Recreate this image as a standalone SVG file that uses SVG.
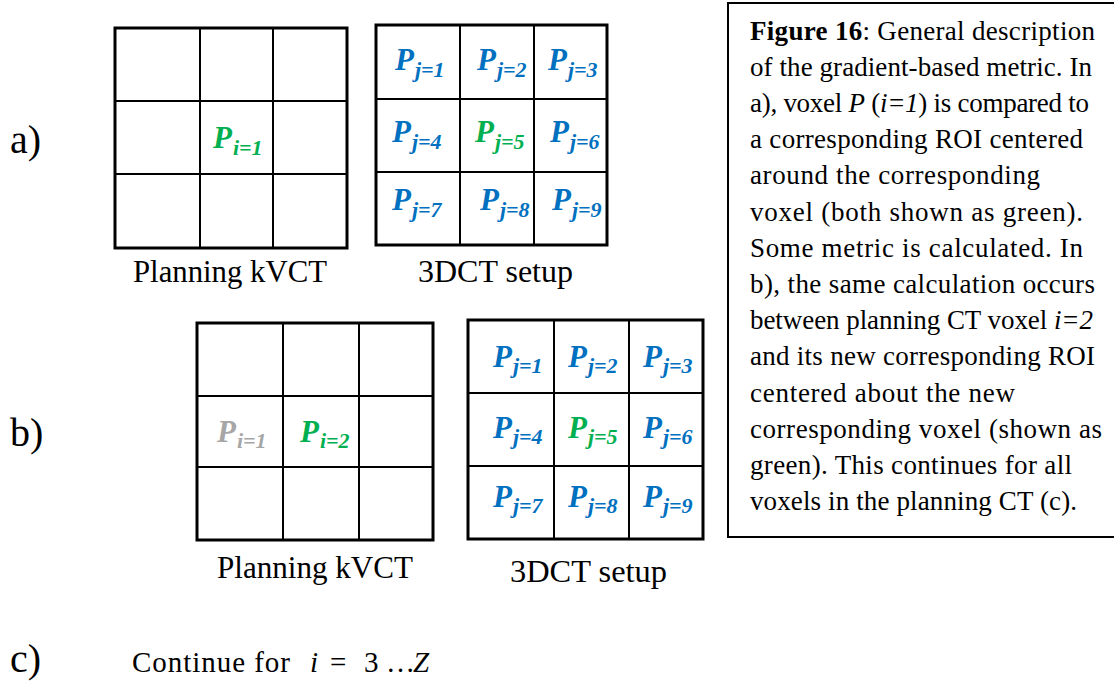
<svg xmlns="http://www.w3.org/2000/svg" width="1114" height="687" viewBox="0 0 1114 687">
<style>
  .outer { fill: #ffffff; stroke: #000000; stroke-width: 3; }
  .inner { stroke: #000000; stroke-width: 2; fill: none; }
  .p { font-family: "Liberation Serif", "Times New Roman", serif; font-weight: bold; font-style: italic; font-size: 31px; }
  .sub { font-size: 22px; }
  .blue { fill: #0070C0; }
  .green { fill: #00B050; }
  .grey { fill: #A6A6A6; }
  .lbl { font-family: "Liberation Serif", "Times New Roman", serif; font-size: 31px; fill: #000000; }
  .row { font-family: "Liberation Serif", "Times New Roman", serif; font-size: 40px; fill: #000000; }
  .cap { font-family: "Liberation Serif", "Times New Roman", serif; font-size: 27px; fill: #000000; }
  .capbox { fill: #ffffff; stroke: #000000; stroke-width: 2; }
  .math { font-family: "Liberation Serif", "Times New Roman", serif; font-size: 29px; fill: #000000; }
</style>
<rect x="0" y="0" width="1114" height="687" fill="#ffffff"/>

<g id="label-a"><text class="row" x="10" y="153">a)</text></g>
<g id="label-b"><text class="row" x="10" y="446">b)</text></g>
<g id="label-c"><text class="row" x="10" y="672">c)</text></g>

<g id="grid-a-planning">
  <rect class="outer" x="115" y="28" width="232" height="220"/>
  <path class="inner" d="M200 28V248M273 28V248M115 101H347M115 174H347"/>
  <text class="p green" x="213" y="148">P<tspan class="sub" dx="1" dy="7">i=1</tspan></text>
  <text class="lbl" x="133" y="282" textLength="194" lengthAdjust="spacingAndGlyphs">Planning kVCT</text>
</g>

<g id="grid-a-setup">
  <rect class="outer" x="376" y="25" width="231" height="220"/>
  <path class="inner" d="M460 25V245M534 25V245M376 99H607M376 172H607"/>
  <text class="p blue" x="395" y="70">P<tspan class="sub" dx="1" dy="7">j=1</tspan></text>
  <text class="p blue" x="477" y="70">P<tspan class="sub" dx="1" dy="7">j=2</tspan></text>
  <text class="p blue" x="548" y="70">P<tspan class="sub" dx="1" dy="7">j=3</tspan></text>
  <text class="p blue" x="392" y="142">P<tspan class="sub" dx="1" dy="7">j=4</tspan></text>
  <text class="p green" x="475" y="142">P<tspan class="sub" dx="1" dy="7">j=5</tspan></text>
  <text class="p blue" x="550" y="142">P<tspan class="sub" dx="1" dy="7">j=6</tspan></text>
  <text class="p blue" x="392" y="210">P<tspan class="sub" dx="1" dy="7">j=7</tspan></text>
  <text class="p blue" x="480" y="210">P<tspan class="sub" dx="1" dy="7">j=8</tspan></text>
  <text class="p blue" x="552" y="210">P<tspan class="sub" dx="1" dy="7">j=9</tspan></text>
  <text class="lbl" x="418" y="282" textLength="155" lengthAdjust="spacingAndGlyphs">3DCT setup</text>
</g>

<g id="grid-b-planning">
  <rect class="outer" x="197" y="323" width="236" height="217"/>
  <path class="inner" d="M283 323V540M359 323V540M197 396H433M197 467H433"/>
  <text class="p grey" x="217" y="442">P<tspan class="sub" dx="1" dy="6">i=1</tspan></text>
  <text class="p green" x="300" y="442">P<tspan class="sub" dx="1" dy="6">i=2</tspan></text>
  <text class="lbl" x="217" y="578" textLength="196" lengthAdjust="spacingAndGlyphs">Planning kVCT</text>
</g>

<g id="grid-b-setup">
  <rect class="outer" x="468" y="320" width="235" height="219"/>
  <path class="inner" d="M554 320V539M629 320V539M468 393H703M468 466H703"/>
  <text class="p blue" x="493" y="367">P<tspan class="sub" dx="1" dy="6">j=1</tspan></text>
  <text class="p blue" x="568" y="367">P<tspan class="sub" dx="1" dy="6">j=2</tspan></text>
  <text class="p blue" x="643" y="367">P<tspan class="sub" dx="1" dy="6">j=3</tspan></text>
  <text class="p blue" x="493" y="438">P<tspan class="sub" dx="1" dy="6">j=4</tspan></text>
  <text class="p green" x="568" y="438">P<tspan class="sub" dx="1" dy="6">j=5</tspan></text>
  <text class="p blue" x="643" y="438">P<tspan class="sub" dx="1" dy="6">j=6</tspan></text>
  <text class="p blue" x="493" y="507">P<tspan class="sub" dx="1" dy="6">j=7</tspan></text>
  <text class="p blue" x="568" y="507">P<tspan class="sub" dx="1" dy="6">j=8</tspan></text>
  <text class="p blue" x="643" y="507">P<tspan class="sub" dx="1" dy="6">j=9</tspan></text>
  <text class="lbl" x="510" y="582" textLength="157" lengthAdjust="spacingAndGlyphs">3DCT setup</text>
</g>

<g id="continue-c">
  <text class="math" x="132" y="672" textLength="158" lengthAdjust="spacing">Continue for</text>
  <text class="math" x="310" y="672" font-style="italic">i</text>
  <text class="math" x="330" y="672">=</text>
  <text class="math" x="364" y="672">3</text>
  <text class="math" x="386" y="672">…</text>
  <text class="math" x="413" y="672" font-style="italic">Z</text>
</g>

<g id="caption">
  <rect class="capbox" x="728" y="3" width="400" height="534"/>
  <text class="cap" x="750" y="39.5" textLength="345" lengthAdjust="spacing"><tspan font-weight="bold">Figure 16</tspan>: General description</text>
  <text class="cap" x="750" y="75.7" textLength="342" lengthAdjust="spacing">of the gradient-based metric. In</text>
  <text class="cap" x="750" y="111.9" textLength="339" lengthAdjust="spacing">a), voxel <tspan font-style="italic">P</tspan> (<tspan font-style="italic">i=1</tspan>) is compared to</text>
  <text class="cap" x="750" y="148.1" textLength="333" lengthAdjust="spacing">a corresponding ROI centered</text>
  <text class="cap" x="750" y="184.3" textLength="290" lengthAdjust="spacing">around the corresponding</text>
  <text class="cap" x="750" y="220.5" textLength="333" lengthAdjust="spacing">voxel (both shown as green).</text>
  <text class="cap" x="750" y="256.7" textLength="333" lengthAdjust="spacing">Some metric is calculated. In</text>
  <text class="cap" x="750" y="292.9" textLength="345" lengthAdjust="spacing">b), the same calculation occurs</text>
  <text class="cap" x="750" y="329.1" textLength="343" lengthAdjust="spacing">between planning CT voxel <tspan font-style="italic">i=2</tspan></text>
  <text class="cap" x="750" y="365.3" textLength="345" lengthAdjust="spacing">and its new corresponding ROI</text>
  <text class="cap" x="750" y="401.5" textLength="265" lengthAdjust="spacing">centered about the new</text>
  <text class="cap" x="750" y="437.7" textLength="352" lengthAdjust="spacing">corresponding voxel (shown as</text>
  <text class="cap" x="750" y="473.9" textLength="322" lengthAdjust="spacing">green). This continues for all</text>
  <text class="cap" x="750" y="510.1" textLength="327" lengthAdjust="spacing">voxels in the planning CT (c).</text>
</g>

<g id="connectors"></g>
</svg>
